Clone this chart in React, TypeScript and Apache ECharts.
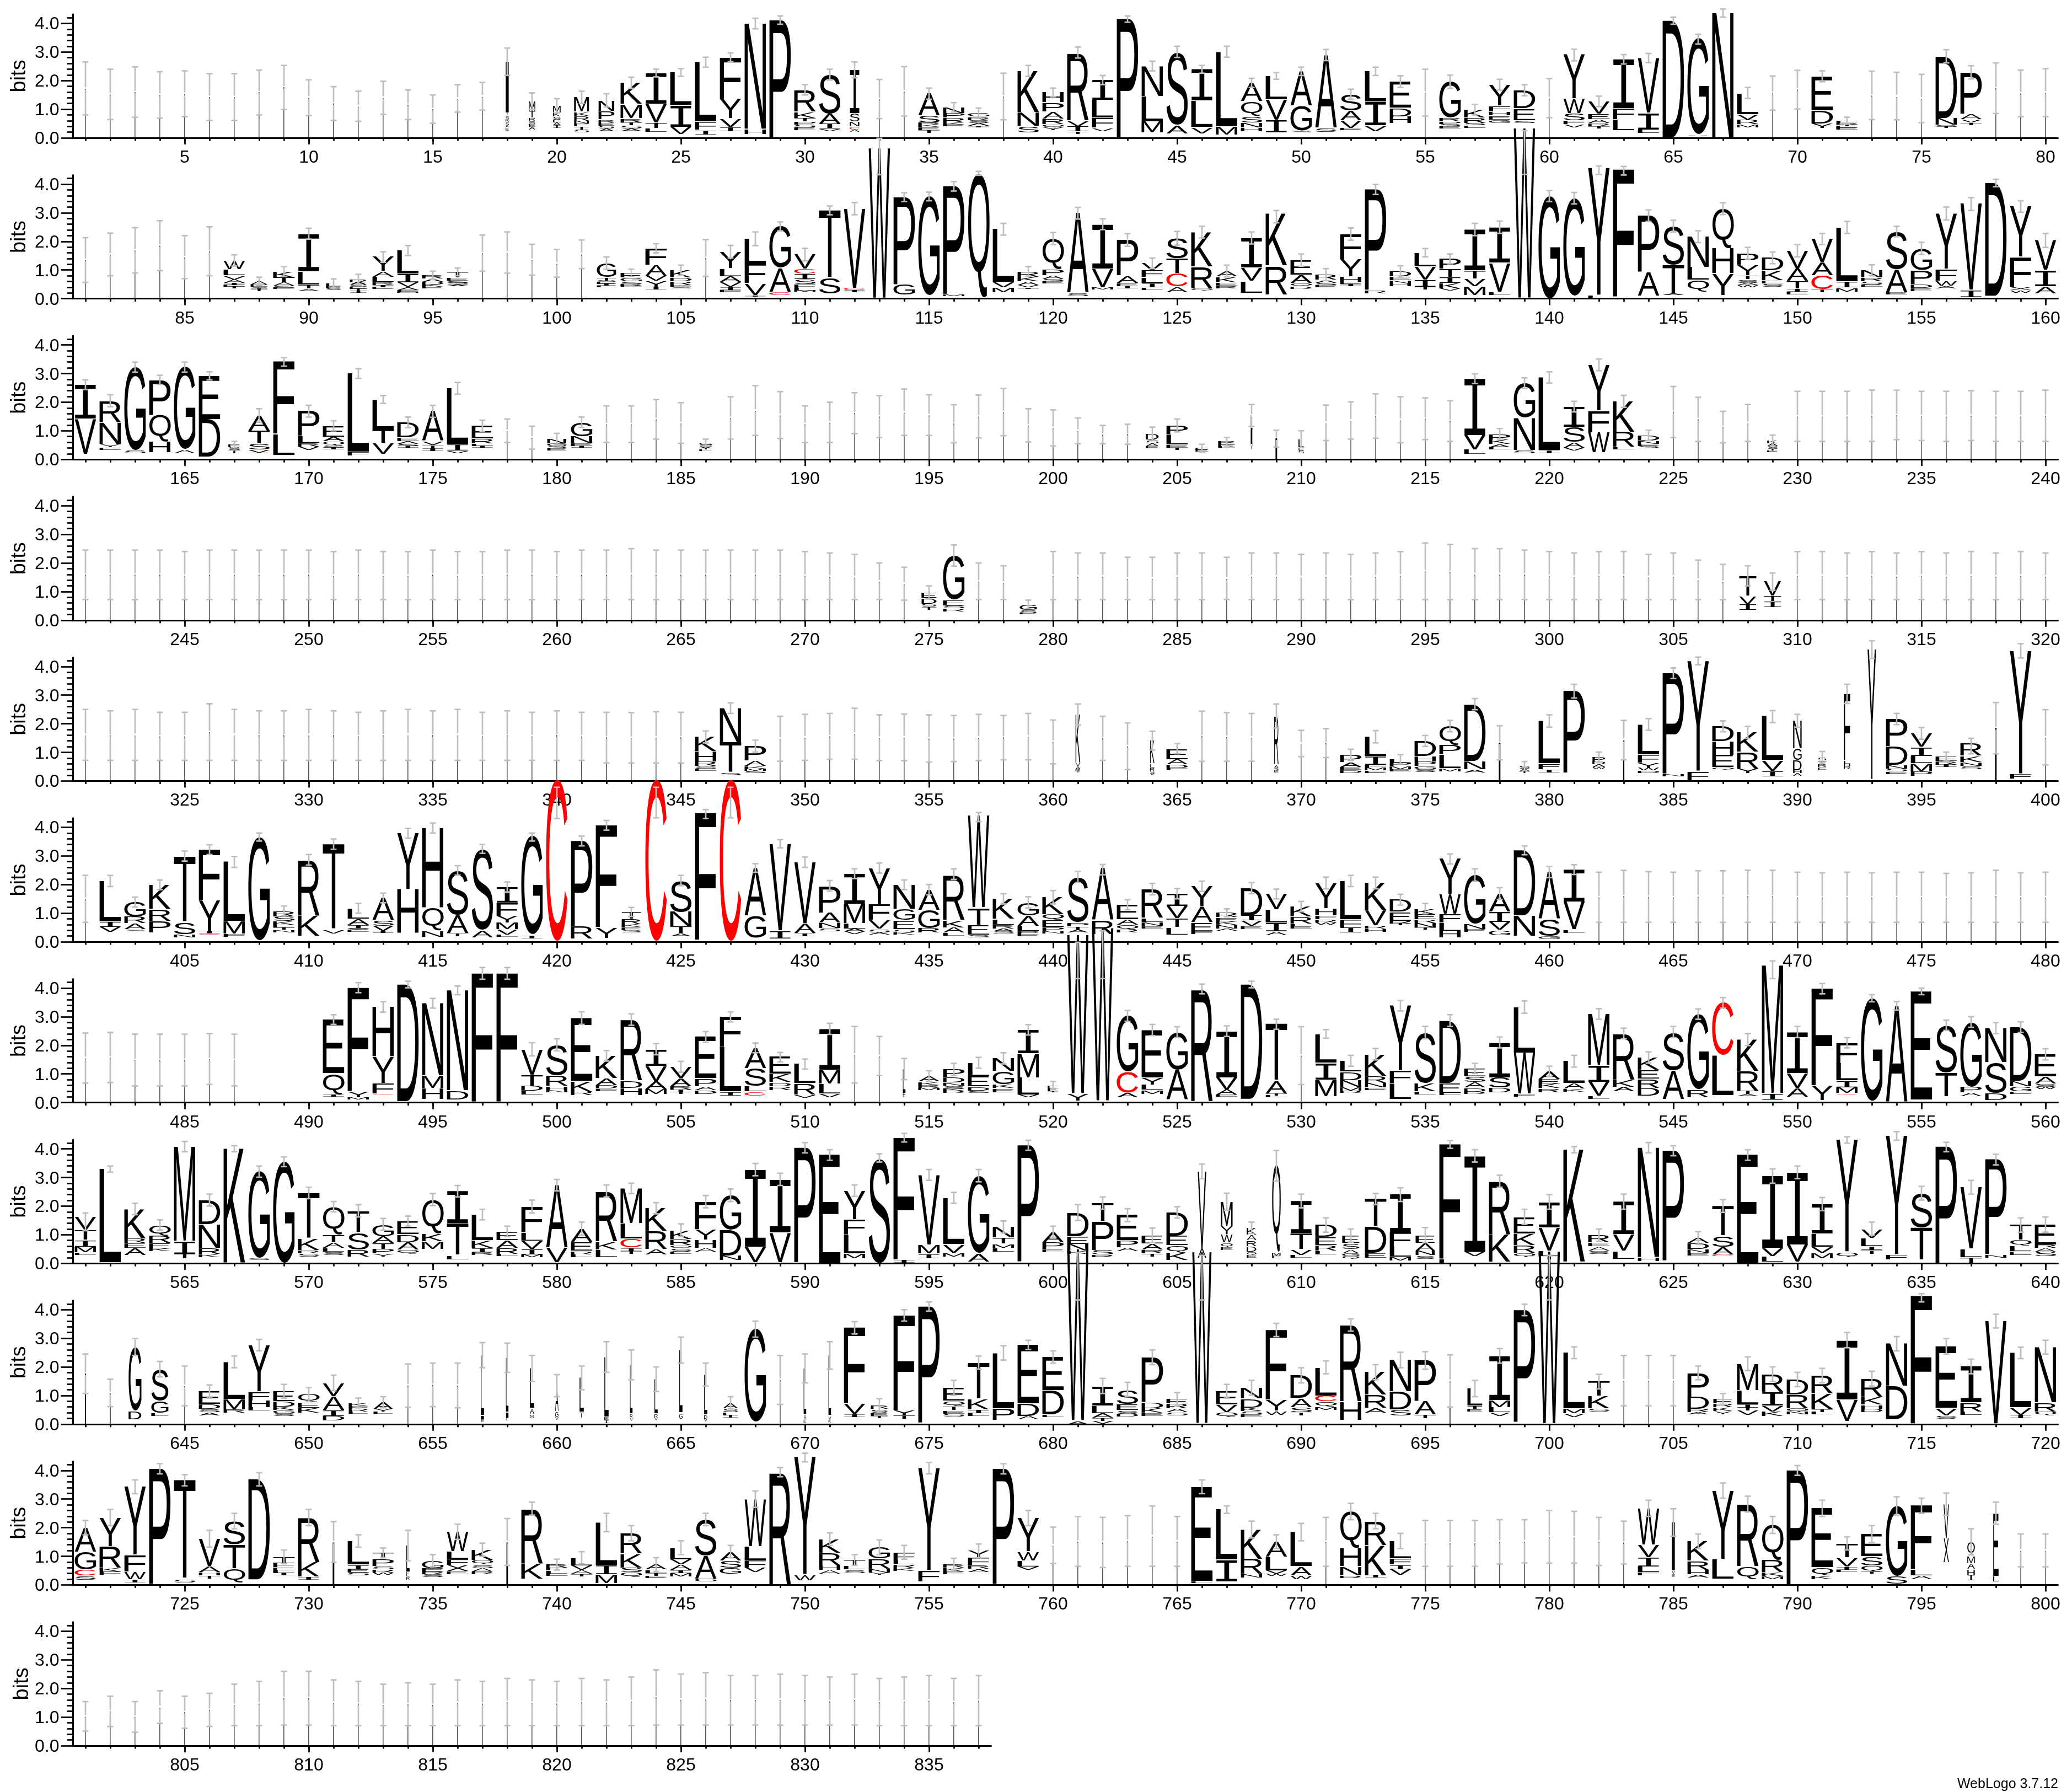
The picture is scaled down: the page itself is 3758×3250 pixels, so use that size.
import React, { useEffect, useRef } from "react";
import * as echarts from "echarts";

// Each position: "errTop/errLow[/widthPct[/stackTop]] letters" — letters run from the stack top downwards,
// a letter without a height runs down to the baseline.
const row01 = [
"2.65/.8/3 I","2.4/.64/3 I","2.48/.72/3 I","2.31/.69/3 I","2.34/.74/3 I","2.24/.61/3 I","2.24/.61/3 I","2.37/.8/3 I","2.53/.99/3 I","2.03/.78/3 I",
"1.79/.61/3 I","1.63/.58/3 I","1.98/.82/3 I","1.67/.64/3 I","1.5/.51/3 I","1.86/.9/3 I","1.94/.97/3 I","3.14/2.18/15 I1.76T.13S.12R.1S.1A.1E.1","1.57/.99/30 M.34T.25R.1S.1E.1A.1","1.37/.87/36 M.25K.13S.1E.1A.1I.1",
"1.63/1.2/70 M.5K.15R.17N.1E.1T.1S.1","1.54/1.08/74 N.37P.3R.12E.1S.1A.1","2.12/1.73 K.75M.49R.15T.1S.1A.1","2.4/2.13 I1.08V.65T.2L.14","2.42/2.15 L1.15I.75V.27","2.82/2.47 L2.08F.29I.16","2.97/2.66 F1.46Y.68V.29I.16","4.18/3.81 N3.7H.17","4.26/3.97 P","1.86/1.5 R.78K.21T.13P.1S.1E.1",
"2.4/2.02 S1.38A.35I.17V.08","2.65/2.1/45 I1.52S.29N.17C.1A.08","2.04/.67/2 I","2.49/.76/2 I","1.74/1.35 A.77S.24R.08K.08E.1T.1","1.23/.9 N.21P.16R.16K.07E.07","1.04/.71 G.14R.12S.1A.1I.05","2.26/.63/2 I","2.53/2.15 K1.45N.49S.22","1.74/1.44 H.35P.32A.25R.2Q.1Y.1",
"3.17/2.79 R2.38V.2I.18T.08","2.18/1.86 I.7L.63F.34V.12","4.26/4.04 P","2.68/2.34 N1.06L.88M.4","3.2/2.81 S2.56A.29","2.53/2.26 I1.1L.93V.22","3.2/2.82 L2.62M.29","2.08/1.76 A.65Q.53S.22N.16H.14","2.28/2.05 L.82V.72I.45","2.47/2.18 A1.2G.88S.06",
"3.09/2.7 A2.55S.15","1.7/1.35 S.58A.34V.26E.08","2.47/2.18 L1.07I.83V.2","2.17/1.76 E.92D.3H.24","2.4/.76/3 I","2.19/1.73 G1.25R.15P.08S.08E.08","1.17/.8 K.29R.18S.08E.08","2.05/1.67 Y.74F.2H.15E.14G.13","1.86/1.47 D.64E.42S.08","2.07/.7/3 I",
"3.1/2.69 Y1.54W.5S.26F.13V.1","1.46/1.09 V.44E.2A.13R.1T.08","2.91/2.58 I1.72F.38L.38","2.95/2.63 V1.92I.58L.13","4.22/3.97 D","3.62/3.28 G3.36A.02","4.5/4.22//4.36 N","1.76/1.38 L.74V.2R.16M.1","2.16/.97/1.5 I","2.36/1.01/2 I",
"2.34/1.96 E1.2D.45V.1T.06","0.72/.48 F.08R.06T.06E.06E.06","2.33/.64/3 I","2.29/.63/3 I","2.22/.53/3 I","3.08/2.62 D2.17N.23S.06T.05","2.52/2.06 P1.46A.18V.12T.08","2.62/.85/3 I","2.37/.74/3 I","2.42/.74/3 I"];

const row02 = [
"2.13/.57/3 I","2.29/.8/3 I","2.48/.9/3 I","2.72/.98/3 I","2.2/.7/3 I","2.51/.8/3 I","1.53/1.14 W.32L.21V.14A.13I.06E.06T.06","0.75/.48/80 A.13E.06S.06I.05T.05","1.12/.78 K.21T.18A.11S.07E.05","2.46/2.08 I1.32L.47T.14A.07",
"0.69/.39/70 L.1E.08S.06","0.85/.5/80 R.1A.09S.07E.07T.07I.07","1.64/1.27 Y.5A.2L.18R.12I.06E.06","1.85/1.51 L.82I.3V.16A.1F.07M.03","0.96/.68 R.13A.1D.09K.09E.05","1.07/.8 T.21E.1S.07S.07A.05","2.22/.96/3 I","2.33/.89/3 I","1.9/.82/3 I","1.72/.75/3 I",
"2.05/1.05/3 I","1.46/1.03/90 G.51T.1S.05E.08I.06L.05","1.03/.77 E.17G.14S.08R.05E.05","1.92/1.6 F.58A.39V.18Y.21I.08","1.17/.82 K.27D.13R.13E.05S.05","2.06/.78/3 I","1.86/1.42 Y.59L.27A.21V.16I.1F.08","2.33/1.85 L.88F.68V.41I.05","2.68/2.37 G1.46A.84C.1","1.76/1.32 V.5C.18I.18S.18F.13L.09M.04",
"3.24/2.93 T2.37S.55","3.36/2.93 V2.78C.07I.07","5.6/4.33//5.25 W","3.7/3.39 P3.06G.36","3.72/3.42 G3.47","4.09/3.76 P3.79M.05","4.45/4.31//4.33 Q","2.63/2.22 L1.86V.18M.17","1.12/.78 R.19K.16A.13V.08I.05","2.31/1.89 Q1.08P.21A.14S.07E.07",
"3.19/2.78 A2.8S.1","2.79/2.41 I1.55V.66M.08","2.27/1.83 P1.25A.25E.12I.08","1.42/1.05 V.26F.23L.2I.16L.08","2.35/1.87 S.72T.51C.47A.2","2.53/2.12 K1.21R.76Q.06","1.17/.76 A.2K.2E.12R.08","2.33/1.91 I1.04V.47L.41","3.08/2.65//2.96 K1.82R1","1.56/1.13 E.52A.29Q.12R.08",
"1.05/.63 R.18A.1S.08E.08","2.47/2.04 F.88Y.6H.19E.08I.06","3.99/3.64 P3.53R.1","1.15/.75 D.18E.14N.1H.1","1.75/1.46 L.49V.45I.25T.1","1.56/1.22 P.36T.29I.2K.2V.06","2.63/2.2 I1.43T.3V.26M.31","2.71/2.28 I1.25V1.01L.1","5.87/4.34//5.94 W","3.78/3.39 G3.6",
"3.71/3.31 G3.43","4.63/4.34//4.56 Y4.45L.1","4.62/4.32//4.52 F4.46","3.1/2.7 P1.97A.84","2.74/2.33 S1.36T.99A.05","2.37/1.96 N1.07L.45Q.4","3.35/2.94 Q1.4H.87Y.75","1.79/1.38 P.41Y.37T.14S.11A.08W.08","1.63/1.22 D.45K.33E.12S.12","1.89/1.46 V.63A.43T.27I.1E.1",
"2.28/1.89 V.82A.45C.49T.1","2.7/2.28 L1.9I.2M.15","1.18/.8 N.26R.14S.1E.08","2.53/2.16 S1.33A.8E.07","1.97/1.54 G.76P.49D.14E.1","3.2/2.75 Y1.95F.41W.17A.08","3.53/3.08 V3.02I.25","4.17/3.91 D3.97","3.42/3.02 Y1.77F1.04X.12W.08","2.28/1.79 V1.05I.56A.25"];

const row03 = [
"2.78/2.44 I1.2V1.23","2.26/1.84 R.78N.75Y.1E.08","3.4/3.05 G2.92S.1","2.94/2.62 P1.22Q.93H.39","3.4/3.05 G2.88A.14","3.06/2.78 E1.53D1.32","0.63/.41/55 E.1S.1T.1","1.77/1.3 A.53T.46S.21V.1C.02","3.56/3.26 F2.53L.73","1.89/1.48 P.87L.24R.14V.11",
"1.35/1 E.39A.16Q.14S.07I.07","3.17/2.83 L2.75F.11","2.23/1.96 L1.05T.48V.39","1.48/1.11 D.53E.14A.09S.07I.06","1.89/1.47 A1.05V.14T.12I.08","2.69/2.28 L1.96I.23V.07","1.37/.98 E.46R.16L.08I.06","1.41/.59/3 I","1.16/.36/3 I","0.91/.52/90 N.16G.09S.08E.08",
"1.48/1.12 G.5N.23E.1I.06","1.87/.59/2 I","1.87/.59/2 I","2.09/.71/2 I","1.98/.56/2 I","0.71/.45/60 G.07S.07A.05T.05L.05","2.19/.71/2 I","2.58/.84/2 I","2.37/.73/2 I","1.87/.59/2 I",
"2/.59/2 I","2.33/.9/2 I","2.23/.77/2 I","2.46/.84/2 I","2.26/.84/2 I","1.91/.58/2 I","2.25/.75/2 I","2.48/.83/2 I","1.77/.61/2 I","1.73/.47/2 I",
"1.45/.55/3 I","1.19/.55/3 I","1.23/.53/3 I","1.13/.67/60 D.22S.12A.1E.07","1.41/.96 P.31L.37E.1T.08","0.53/.26/60 E.06E.06","0.77/.47/80 R.06E.06K.05L.05","1.92/1.15/8 L.5I.5V.2","1.02/.43/8 I","1/.41/25 L.3E.1S.1",
"1.9/.66/2 I","2.01/.71/2 I","2.29/.74/2 I","2.19/.58/2 I","2.15/.69/2 I","2.05/.63/2 I","2.99/2.65 I1.97V.5L.16","1.08/.71 P.2K.16A.1L.08","2.85/2.48 G1.21N1.13S.12","3.06/2.67 L2.55I.1",
"2.03/1.66 I.71S.53A.2V.1","3.51/3.1 Y1.6F.76W.71","2.24/1.82 K1.07R.53L.08","1.02/.66 D.2N.1E.08S.08","2.55/.77/2 I","2.17/.63/2 I","1.68/.58/2 I","1.92/.63/2 I","0.85/.47/50 K.1A.1S.1T.05E.05","2.38/.63/2 I",
"2.38/.63/2 I","2.38/.63/2 I","2.42/.63/2 I","2.42/.69/2 I","2.38/.66/2 I","2.38/.63/2 I","2.4/.66/2 I","2.38/.63/2 I","2.38/.63/2 I","2.42/.63/2 I"];

const row04 = [
"2.45/.72/3 I","2.45/.72/3 I","2.45/.72/3 I","2.45/.72/3 I","2.4/.72/3 I","2.45/.72/3 I","2.45/.72/3 I","2.45/.72/3 I","2.45/.72/3 I","2.45/.72/3 I",
"2.4/.72/3 I","2.45/.72/3 I","2.4/.72/3 I","2.4/.72/3 I","2.45/.72/3 I","2.4/.72/3 I","2.4/.72/3 I","2.45/.72/3 I","2.45/.72/3 I","2.4/.72/3 I",
"2.45/.72/3 I","2.45/.72/3 I","2.5/.72/3 I","2.45/.72/3 I","2.45/.72/3 I","2.45/.72/3 I","2.45/.72/3 I","2.45/.72/3 I","2.45/.72/3 I","2.4/.72/3 I",
"2.35/.72/3 I","2.3/.72/3 I","2/.72/3 I","1.85/.7/3 I","1.2/.74/70 E.2D.2S.1T.1","2.63/1.89 G1.55E.2S.1R.1","2/.72/3 I","1.9/.72/3 I","0.7/.4/80 G.2S.1E.05","2.4/.72/3 I",
"2.35/.72/3 I","2.35/.72/3 I","2.2/.72/3 I","2.2/.72/3 I","2.35/.72/3 I","2.35/.72/3 I","2.2/.72/3 I","2.35/.72/3 I","2.35/.72/3 I","2.3/.72/3 I",
"2.35/.72/3 I","2.3/.72/3 I","2.35/.72/3 I","2.4/.72/3 I","2.7/.72/3 I","2.65/.72/3 I","2.5/.72/3 I","2.5/.72/3 I","2.45/.72/3 I","2.4/.72/3 I",
"2.35/.72/3 I","2.4/.72/3 I","2.4/.72/3 I","2.3/.72/3 I","2.35/.72/3 I","2.1/.72/3 I","1.95/.72/3 I","1.9/1.2/80 T.7V.3I.2","1.65/1.05/80 V.5T.2I.2","2.4/.72/3 I",
"2.4/.72/3 I","2.35/.72/3 I","2.4/.72/3 I","2.35/.72/3 I","2.4/.72/3 I","2.35/.72/3 I","2.4/.72/3 I","2.35/.72/3 I","2.4/.72/3 I","2.35/.72/3 I"];

const row05 = [
"2.5/.72/3 I","2.45/.72/3 I","2.5/.72/3 I","2.4/.72/3 I","2.4/.72/3 I","2.7/.72/3 I","2.5/.72/3 I","2.45/.72/3 I","2.45/.72/3 I","2.5/.72/3 I",
"2.45/.72/3 I","2.4/.72/3 I","2.45/.72/3 I","2.5/.72/3 I","2.45/.72/3 I","2.5/.72/3 I","2.4/.72/3 I","2.45/.72/3 I","2.4/.72/3 I","2.45/.72/3 I",
"2.4/.72/3 I","2.4/.63/3 I","2.39/.63/3 I","2.42/.63/3 I","2.4/.63/3 I","1.75/1.33 K.51H.35R.16S.08E.08","2.73/2.36 N1.2T1.06S.08","1.43/1.01 P.51A.19K.08M.08S.08","2.26/.69/3 I","2.33/.72/3 I",
"2.36/.76/3 I","2.54/.76/3 I","2.31/.71/3 I","2.34/.71/3 I","2.31/.66/3 I","2.29/.68/3 I","2.33/.71/3 I","2.29/.74/3 I","2.36/.74/3 I","2.13/.6/3 I",
"2.69/1.96/22 K1.7V.1A.1R.08T.05","2.26/.72/3 I","2.03/.4/3 I","1.74/1.08/20 K.8L.15R.1S.1V.07","1.31/.95 E.37A.18D.14F.05","2.44/.69/3 I","2.39/.69/3 I","2.36/.69/3 I","2.69/1.85/20 R1.7A.12S.08E.08","1.77/.85/3 I",
"1.83/.82/3 I","1.11/.72 P.27A.16E.1D.1","1.76/1.33 L.69I.29F.1M.1E.08","0.92/.6 L.13P.11M.1E.08","1.59/1.21 D.54H.19P.16G.1S.1","2.12/1.72 Q.67P.33L.48M.1","2.88/2.49 D1.99N.3A.1","1.93/.74/8 I","0.68/.37/50 S.1A.1T.05","2.31/1.88 L1.5F.2I.1",
"3.38/2.9 P2.88","1.01/.66/60 P.16D.1A.09W.07","2.12/.74/6 I","2.18/1.77 L1.06F.29Y.16W.1D.08","3.95/3.58 P3.53N.08","4.33/4.06 Y3.85F.32","2.1/1.72 D.53H.48E.43Q.07","1.91/1.49 K.69R.59Y.16","2.46/2.04 L1.54V.37I.19","2.33/1.88/40 N.97G.41D.35H.1A.1",
"1.03/.63/40 S.12T.13R.1E.08","3.38/2.71/30 F2.34L.1H.1R.1","4.9/4.28/40/4.6 Y4.55","2.36/1.97 P.96D.65N.13S.1E.08","1.87/1.46 V.48I.31L.26M.29P.16","1.01/.69 E.16R.13I.08","1.49/.95/100/1.32 R.44K.22N.14S.1","2.74/.95/8 I","4.8/4.3//4.54 Y4.3F.16","2.49/.56/3 I"];

const row06 = [
"2.32/.68/3 I","2.32/1.93 L1.42I.19V.18","1.56/1.22 G.52R.23A.21S.06","2.16/1.82 K.85R.41P.41","3.17/2.82 T2.31S.44N.09","3.39/3.05 F1.78Y1.07I.09C.03","2.98/2.6 L2.09M.43F.09","3.8/3.52//3.66 G3.62","1.25/.9 R.19S.16K.13E.1T.08N.08","3.05/2.68 R1.96K.71",
"3.59/3.23 T3V.14","1.34/1 L.37A.21I.13S.06E.06","1.7/1.36 A.78S.2V.18I.06","3.96/3.62 Y1.97H1.54","4.15/3.8 H2.79Q.81N.21","2.66/2.33 S1.57A.63T.12","3.4/3.09 S2.85A.25","2.09/1.74 I.56F.46Y.23M.23V.19L.07","3.8/3.52 G3.44I.1","5.4/4.31//5.65 C",
"3.69/3.35 P2.98R.43","4.24/3.9 F3.58Y.36","1.2/.88/90 T.25R.18K.1E.1S.08","5.4/4.33//5.65 C","2.32/1.96 S1.1N.5T.24A.1","4.62/4.31//4.5 F4.45","5.4/4.33//5.65 C","2.73/2.43 A1.67G.78","3.57/3.28 V3.04I.27","2.96/2.6 V2.14A.34I.12",
"2.14/1.77 P.94A.36N.19S.11","2.55/2.21 I1.05M.68L.19A.1V.1","2.75/2.4 Y1.26F.55V.32S.11A.08","2.16/1.82 N.85G.39E.32S.1K.08","2/1.64 A.71G.64R.16","2.55/2.18/100/2.32 R1.57K.25A.18L.1","4.52/4.2//4.4 W3.22T.6E.34S.08","1.68/1.32 K.71L.2R.13A.1S.08","1.57/1.18 G.46A.36L.18P.1E.08","1.79/1.32 K.6Q.19E.25P.14N.08",
"2.46/2.07 S1.6P.14T.1A.1","2.7/2.34/100/2.58 A1.82R.5","1.47/1.12 E.51A.2Q.16R.1","2.04/1.64 R1.02L.14N.14E.08","1.86/1.5 I.43V.43T.32L.25","2.12/1.76 Y.73A.53E.32F.1","1.15/.87 R.16E.14K.13N.11A.08","2.07/1.68 D.96I.18V.19E.1","1.84/1.5 V.55L.46I.3A.13","1.41/1.05 K.36R.25L.08E.08",
"2.26/1.85 Y.89H.25F.14R.1W.07","2.32/1.93 L1.35F.28I.18","2.26/1.85 K.96V.53R.12H.09","1.66/1.28 D.43E.32R.09T.06","1.34/.98 K.2E.18R.13N.16T.07","3.07/2.72 Y1.25W.68F.31L.28H.23","2.55/2.11 G1.71N.18P.09","1.89/1.48 A.64I.36V.28G.18","3.35/3.04 D2.28N.71","2.63/2.24 A1.64S.6G.11",
"2.69/2.35 I1.12V.98L.12","2.43/.68/2 I","2.5/.68/2 I","2.45/.68/2 I","2.43/.68/2 I","2.48/.68/2 I","2.48/.68/2 I","2.5/.68/2 I","2.5/.68/2 I","2.43/.68/2 I",
"2.41/.68/2 I","2.43/.68/2 I","2.41/.68/2 I","2.43/.68/2 I","2.43/.68/2 I","2.39/.68/2 I","2.41/.68/2 I","2.5/.68/2 I","2.41/.68/2 I","2.43/.68/2 I"];

const row07 = [
"2.43/.68/3 I","2.45/.7/3 I","2.39/.58/3 I","2.39/.58/3 I","2.39/.58/3 I","2.41/.63/3 I","2.39/.58/3 I","","","",
"3.07/2.73 E1.9Q.73I.07","4.19/3.84 F3.63Y.21M.07","3.53/3.16 H1.74Y.93F.37C.02","4.24/4.01 D4.1","3.64/3.3 N2.53M.43H.39","4.07/3.77 N3.51D.32","4.72/4.31//4.5 F","4.72/4.31//4.5 F","2.09/1.63 V.89T.39D.18L.11","2.23/1.81 S1.08R.37H.14N.07",
"3.17/2.73 E2.22K.36R.11","1.82/1.45 K.78A.25D.13F.07","3.1/2.7 R2.15D.25H.25","2.06/1.67 I.59V.53A.28M.18","1.44/1.06 V.41A.28R.11I.09T.07","2.48/2.11 E1.47P.26A.14D.13","3.17/2.82 F1.05L1.57I.14","2.08/1.74 A.71S.63L.19C.14","1.75/1.42 E.6K.28D.14R.14","1.52/1.17/100/1.35 L.68R.4V.12",
"2.77/2.38 I1.44M.48L.34V.14","2.66/.68/2 I","2.31/.94/2 I","1.54/.8/12 L.8E.2","1.11/.74 A.2K.12R.09M.08","1.37/.95 P.28D.18N.12S.1K.07R.07","1.58/1.2 L.48E.36D.14S.07","1.74/1.35 N.45G.46K.14E.14","2.72/2.36 I.83M.84L.6V.09","0.74/.46/50 E.1L.1I.05",
"5.6/4.33//5.85 W5.55Y.25","6/4.33//6.1 W6.05","3.22/2.84 G1.97C.73A.16","2.73/2.34 E1.67Y.24L.19M.14","2.65/2.27 G1.32A1.05","4.14/3.8 R3.95","2.68/2.31 I1.62V.43A.18E.07","4.24/4.01 D4.02","2.91/2.56 T1.99A.43T.07L.06","2.65/.63/2 I",
"2.55/2.25 L1.01I.59M.59","1.65/1.27 L.39D.3N.23M.13R.07","1.89/1.49 K.76R.25N.16E.08","3.57/3.2 Y2.28F.46L.53","2.66/2.23 S1.78K.28L.1","3.07/2.66 D2.19E.34L.08","1.37/1.02 E.28S.2A.2D.14R.07","2.29/1.91 I1.22S.37D.16","3.55/3.12 L1.6W1.44F.09","1.27/.92 A.28E.16K.16R.14",
"1.65/1.24 L.78A.18K.1","3.28/2.91 M1.79I.58V.5L.1","2.6/2.23 R1.62K.25A.16","1.77/1.38 K.43E.32R.32D.28","2.66/2.27 S1.34A1.01","3.27/2.91 G2.63R.28","3.67/3.3 C1.85L1.39","2.41/1.99 K1.1R.7T.11A.07","4.95/4.33//4.79 M4.48I.21C.02","2.66/2.27 I1.44V.52A.32",
"4.16/3.8 F3.4Y.5","2.27/1.91 F.73L.6I.23M.21C.03","3.77/3.52 G3.6","3.53/3.23 A3.35","4/3.77 E3.8","2.88/2.52 S1.67T.84","3/2.63 G2.26P.21A.13","2.79/2.41 N1.2S1.07D.25","2.82/2.45 D1.89N.18G.18E.08","1.88/1.49 E.78A.25S.1W.08"];

const row08 = [
"1.76/1.14/100/1.62 V.46T.35I.23M.21L.08","3.4/3.19 L3.28","2.1/1.7 K1.04R.16E.16A.25","1.52/1.16 Q.37R.27E.18K.1","4.26/3.9 M3.31I.45T.16","2.42/2 D.85N.83R.21K.1","4.11/3.9/100/4 K4","3.4/3.01 G3.04S.05","3.72/3.38 G3.55","2.66/2.26 T1.6K.4R.12S.1",
"2.16/1.8 Q.98T.27A.19L.14S.1","2.05/1.62 T.75S.62R.25","1.57/1.16 G.43A.23T.21P.16Y.09","1.65/1.3 E.47D.27A.27Q.14","2.44/2.02 Q1.19K.27M.27","2.72/2.32 I1.12T1.12L.15","1.89/1.52 L.9K.27I.15R.1","1.3/.93 E.32A.27R.21L.07","2.21/1.76 F.91L.29V.29I.19M.1","2.93/2.53 A2.19V.5",
"1.44/.98 A.46E.32R.12L.1","2.74/2.32 R1.78K.27L.27","2.8/2.44 M1.23L.53C.32I.12T.09","2.12/1.73 K.8R.64A.18","1.38/.93 K.32R.21Q.12S.1E.07","2.37/1.94 F.96Y.37H.3A.13","2.6/2.16 G1.22D.9N.16","3.49/3.06 I2.7V.53","3.15/2.72 I1.85V1.04","4.22/3.86 P4.02",
"3.97/3.6 E3.86","2.74/2.34 Y1.01F.54L.66M.16","3.83/3.54 S3.7","4.54/4.24 F4.27I.1","3.28/2.9 V2.45M.31I.16","2.48/2.1 L1.63V.3M.13","3.28/2.85 G2.72A.29","1.48/1.06 N.38T.21M.14L.15","4.3/3.95 P4.08","1.3/.88 A.37P.23E.12",
"2.05/1.5 D.83E.27N.25K.1","2.32/1.89 T.64P1.01S.16R.08","1.91/1.46 E.9P.23A.14","1.23/.72 E.29A.21R.14T.1","1.98/1.58 D.82E.34Q.25K.27","3.47/2.96/40 V2.69A.34","2.45/1.85/55 M.85Y.29W.29Q.15E.1","1.44/1.04/45 K.24A.2R.2D.2Q.1E.1","3.94/2.87/40 Q3.03M.1E.1","2.42/1.94 I1.12T.57V.2L.1",
"1.59/1.09 D.43E.29R.18L.13","1.2/.74/80 E.27S.2A.15G.1Q.1","2.44/2.05 T.96D.93E.16","2.64/2.16 I1.33F.5L.35M.14","1.25/.72/90 E.27A.27N.17S.12","4.29/4.02 F4.02L.16","3.97/3.54 I3.36V.16","3.08/2.66 R1.87K.96","1.89/1.36 E.59K.41R.27Q.13","2.4/1.89 I.9V.8L.2T.1",
"4.08/3.86 K3.93","1.2/.77 R.27E.13A.14S.13","2.42/1.89 I1.14V.59L.27","4.22/3.86 N3.84H.13","4.11/3.76 P3.86","1.11/.66 A.18D.21N.14E.08","2.23/1.78 T1.05S.39A.27C.05","3.97/3.6 E3.86","3.3/2.8 I2.52V.29L.19","3.4/2.96 I2.52V.61",
"2.3/1.84 I1.04L.46V.21M.19","4.42/4.2//4.32 Y3.93Q.18","1.44/.98 V.32L.3I.14T.13","4.6/4.3//4.45 Y4.16F.16","2.69/2.21 S1.2T1.14","4.23/3.9 P4.13","2.9/2.42 V2.16L.3T.21","3.81/3.44 P3.33N.1","1.59/1.09 T.53Q.21L.18E.14","1.62/1.09 E.7R.13A.11S.18"];

const row09 = [
"2.45/1.07/5 I","1.57/.61/4 I","2.99/2.4/60 G2.24D.3","2.19/1.65/80 S1.11G.43L.1","2.03/.64/3 I","1.37/.91 E.45D.16S.12A.1","2.38/1.97 L1.31M.35R.11","2.96/2.56 Y1.62F.32H.23L.11","1.39/.91 E.36D.18K.13G.1S.1","1.28/.8 Q.29E.19K.16",
"1.71/1.17 V.47A.48I.21D.16","0.91/.57/90 K.1F.1R.1L.08","0.96/.57/90 A.23Y.1L.08","2.1/.59/3 I","2.13/.61/3 I","2.13/.57/3 I","2.85/1.97/15 L2.1I.15E.1","2.83/1.81/12 L1.9I.2E.1","2.4/1.49/20 L1.4A.2S.15","1.73/.96/15 A.9G.2V.1",
"2.03/1.2/20 L1.2T.2","2.88/1.81/20 L2.1E.1I.1","2.59/1.55/12 L1.7R.15V.1","2/1.14/15 L1.2R.15V.1","3.04/2.13/15 L2.2G.2","2.13/1.33/15 L1.4D.15V.1","0.96/.53/70 A.2S.14L.1I.08","3.6/3.04 G3.27","2.4/.69/2 I","2.45/1.44/12 L1.6A.2E.1",
"2.88/1.92/12 L2.1V.15K.1","3.58/3.15 F2.65V.37I.1","0.89/.43/80 R.14S.13E.1T.08","4/3.6 F3.32Y.17T.13","4.27/3.95 P4.08","1.53/1.01 E.47Q.18T.14E.12S.1","2.38/1.92 T1.28K.37I.11L.1","2.74/2.24 L1.95P.41","2.93/2.61 E2.06D.43A.11","2.56/2.13 E1.17D.85L.08",
"6/4.34//6.1 W6A.1","1.6/1.07 I.69L.27A.16T.1V.1","1.46/.96 S.51E.21S.13D.1","2.59/2.08 P1.58D.21K.16E.1","1.1/.64 E.16R.17A.13S.1","5.9/4.34/90/6 W","1.39/.91 E.48V.27Q.16","1.53/1.01 N.39D.32K.11S.1E.1","3.52/3.06 F2.45Y.38W.14","1.97/1.44 D.8A.32S.18T.1",
"2.21/1.76 L.99C.21Q.18M.1","3.68/3.25 R2.69H.64","2.08/1.55 K.8R.46A.16","2.51/1.97 N1.1D.64S.21","2.53/1.92 P1.42A.48T.11","2.42/.6/4 I","1.53/.96/70 L.61I.11E.08","2.64/2.13 I1.55M.25L.18V.13","4.19/3.79 P3.93","5.9/4.34//6.03 W",
"2.7/2.29 L1.97M.16V.11","1.74/1.23 T.51K.43S.1","2.4/.64/2 I","2.4/.64/2 I","2.4/.64/2 I","2.03/1.55 P.83D.43R.11A.08","1.07/.69/90 E.16R.14K.13Y.12","2.35/1.87 M.94L.48I.11T.1V.16","2/1.49 R.62I.48V.21K.16","1.81/1.31 D.53R.48Q.11N.1",
"1.95/1.44 R.64K.53T.1L.09","3.2/2.67 I2.08V.75","1.85/1.33 R.64K.27H.15D.13","3.06/2.56 N1.49D1.17","4.56/4.27//4.48 F","2.99/2.45 E2.17V.25S.13","2.27/1.76 I1.26R.32L.11","3.84/3.36 V3.6","2.69/2.29 L1.92V.25I.11","2.93/2.45 N1.94R.32Q.13"];

const row10 = [
"2.25/1.75 A.85G.62C.21S.15","2.64/2.07 Y1R.77K.11F.13","3.67/3.19 Y2.38F.59W.27I.1","4.24/3.88 P4.05","3.85/3.46 T3.47S.11","1.91/1.32 V.96A.21H.12T.12","2.5/1.96 S.82T.85Q.48","3.92/3.46 D3.52","1.22/.74 T.21F.16E.1L.1I.08","2.64/2.07 R1.57K.51I.1",
"2.21/.79/8 I","1.75/1.32 L.83I.16E.11S.1","1.29/.95 T.21P.25S.13R.1W.08","1.91/.84/15 L.9E.2R.1","1.06/.63 G.27E.11R.1S.09","2.12/1.59 W.69L.27F.21X.21E.1","1.46/1 K.36Q.16S.13A.11R.1","2.32/.68/8 I","2.89/2.44 R1.92K.53","0.9/.52 R.11F.1L.1E.08",
"1.16/.74 L.27V.16A.14T.08","2.5/1.86 L1.49I.32M.32","2.07/1.54 R.72K.48S.16Q.16","0.95/.47 A.18L.12T.1E.08","1.54/1.06 L.41V.18A.19I.12M.11","2.5/2.07 S1.28A.8G.09","1.38/.95 A.32S.25G.21","3.28/2.71 W1.65L.48F.27V.16","4.1/3.78 R3.95","4.6/4.3//4.47 Y4.11W.2",
"1.82/1.38 K.48R.45H.16A.13","1.06/.68 T.21L.13S.11","1.57/1.06 G.41R.35N.13Y.08","1.38/.9 F.27L.16R.13K.1","4.28/3.88 Y3.58F.38","0.93/.52 R.14K.11E.1","1.43/.95 Y.23F.27R.14A.1","4.24/3.88 P4.05","2.6/2.07 Y1.17W.32L.21V.11","2.02/.75/3 I",
"2.39/.65/3 I","2.36/.61/3 I","2.42/.65/3 I","2.76/.65/3 I","2.39/.65/3 I","3.67/3.19 E3.31L.05","2.76/2.5 L1.76I.75","2.23/1.64 K1.03R.53N.13","1.75/1.27 A.53L.48V.11W.08","2.15/1.54 L1.2A.32W.13",
"2.36/.65/3 I","2.85/2.28 Q1.28H.64N.32R.08","2.5/1.96 R.85K1.05I.08","1.8/1.27 L.62F.21I.16V.21","2.25/.65/3 I","2.25/.65/3 I","2.25/.65/3 I","2.28/.73/3 I","2.28/.77/3 I","2.6/.76/3 I",
"2.57/.76/3 I","2.36/.68/3 I","2.23/.73/3 I","2.96/2.39 W1.28V.43I.32L.21F.1","2.66/1.7/15 I1.7V.1E.1","1.78/1.27 K.69R.32H.16A.1","3.56/3.03 Y2.4L.69","3.1/2.55 R2.19Q.43","2.39/1.8 Q1.23R.43K.13M.1","4.17/3.83 P4.02",
"2.96/2.39 E2.08Q.27K.13","1.68/1.22 T.5V.32I.1L.08","2.07/1.48 E.78S.32Q.21T.08","3.08/2.44 G2.45S.27","3.03/2.5 F2.24L.21A.11","3.21/2.43/25/2.82 V1.2X.85","1.96/1.05/35 Q.5M.25A.2H.2I.2","2.89/2.12/25 E2.2L.2","1.78/.63/2 I","1.78/.63/2 I"];

const row11 = [
"1.54/.51/3 I","1.73/.67/3 I","1.54/.47/3 I","1.92/.78/3 I","1.73/.61/3 I","1.83/.67/3 I","2.15/.7/3 I","2.25/.7/3 I","2.6/.72/3 I","2.6/.72/3 I",
"2.3/.7/3 I","2.25/.7/3 I","2.15/.7/3 I","2.2/.7/3 I","2.15/.7/3 I","2.3/.7/3 I","2.25/.7/3 I","2.35/.7/3 I","2.3/.7/3 I","2.25/.7/3 I",
"2.35/.7/3 I","2.3/.7/3 I","2.4/.7/3 I","2.65/.72/3 I","2.5/.72/3 I","2.55/.72/3 I","2.45/.72/3 I","2.45/.72/3 I","2.5/.72/3 I","2.45/.72/3 I",
"2.4/.72/3 I","2.5/.72/3 I","2.35/.7/3 I","2.4/.7/3 I","2.45/.7/3 I","2.35/.7/3 I","2.45/.7/3 I"];

const rows = [row01,row02,row03,row04,row05,row06,row07,row08,row09,row10,row11];
const majorTicks = [0,1,2,3,4];
const minorTicks = [0.2,0.4,0.6,0.8,1.2,1.4,1.6,1.8,2.2,2.4,2.6,2.8,3.2,3.4,3.6,3.8,4.2];
const footer = "WebLogo 3.7.12";

const SANS = '"Liberation Sans"';
const MONO = '"Liberation Mono"';
const cv = document.createElement("canvas").getContext("2d")!;
const cache: Record<string, any> = {};
function glyph(ch: string, family: string) {
  const k = ch + family;
  if (cache[k]) return cache[k];
  const font = `100px ${family}`;
  cv.font = font;
  const m = cv.measureText(ch);
  const g = {
    font,
    l: m.actualBoundingBoxLeft, r: m.actualBoundingBoxRight,
    a: m.actualBoundingBoxAscent, d: m.actualBoundingBoxDescent,
    c: (m.fontBoundingBoxAscent - m.fontBoundingBoxDescent) / 2,
  };
  cache[k] = g;
  return g;
}
function parse(s: string) {
  if (!s) return null;
  const [head, body] = s.split(" ");
  const [t, l, w, st] = head.split("/");
  const top = parseFloat(t), low = parseFloat(l);
  const width = w ? parseFloat(w) : 100;
  const stack = st ? parseFloat(st) : (top + low) / 2;
  const letters: [string, number | null][] = [];
  const re = /([A-Z])([\d.]*)/g;
  let m: any;
  while ((m = re.exec(body || ""))) letters.push([m[1], m[2] ? parseFloat(m[2]) : null]);
  return { top, low, width, stack, letters };
}
const GREY = "#bebebe";
const renderItem = (row: string[]) => (params: any, api: any) => {
  const idx = api.value(0);
  const p = parse(row[idx]);
  if (!p) return { type: "group", children: [] };
  const cx = api.coord([idx, 0])[0];
  const Y = (v: number) => api.coord([idx, v])[1];
  const band = api.size([1, 0])[0];
  const W = Math.max(1.1, (band * 0.87 * p.width) / 100);
  const kids: any[] = [];
  let cur = p.stack;
  for (const [ch, h0] of p.letters) {
    const h = h0 == null ? cur : h0;
    const yT = Y(cur), yB = Y(cur - h);
    cur -= h;
    const H = yB - yT;
    if (H <= 0) continue;
    const fam = ch === "I" && W > 6 ? MONO : SANS;
    const g = glyph(ch, fam);
    const sx = W / (g.l + g.r);
    const pad = H > 6 ? 1 : 0;
    const sy = (H - pad) / (g.a + g.d);
    kids.push({
      type: "text", silent: true,
      x: cx - W / 2 + g.l * sx,
      y: yT + pad / 2 - (g.c - g.a) * sy,
      scaleX: sx, scaleY: sy,
      style: { text: ch, font: g.font, fill: ch === "C" ? "#ff0000" : "#000", align: "left", verticalAlign: "middle" },
    });
  }
  const yTop = Y(p.top), yLow = Y(p.low), yMid = Y(p.stack);
  const line = (x1: number, y1: number, x2: number, y2: number) => ({
    type: "line", silent: true, shape: { x1, y1, x2, y2 }, style: { stroke: GREY, lineWidth: 2.7 },
  });
  kids.push(line(cx - 5.5, yTop, cx + 5.5, yTop), line(cx - 5.5, yLow, cx + 5.5, yLow));
  if (p.width <= 8) {
    kids.push(line(cx, yTop, cx, yMid - 2.5), line(cx, yMid + 2.5, cx, yLow));
  } else {
    kids.push(line(cx, yTop, cx, yLow));
  }
  return { type: "group", children: kids };
};

function buildOption() {
  const grid: any[] = [], xAxis: any[] = [], yAxis: any[] = [], series: any[] = [];
  const textBase = { fontFamily: SANS, color: "#000" };
  let start = 1;
  rows.forEach((row, r) => {
    const base = 250 + 291.6 * r;
    const h = 224.2;
    grid.push({ left: 132.5, top: base - h, width: 45 * row.length, height: h, containLabel: false });
    const cats = row.map((_, i) => String(start + i));
    const isMajor = (_: number, v: string) => +v % 5 === 0;
    xAxis.push({
      type: "category", gridIndex: r, position: "bottom", data: cats, boundaryGap: true,
      axisLine: { show: true, onZero: false, lineStyle: { color: "#000", width: 3 } },
      axisTick: { show: true, alignWithLabel: true, length: 12, interval: isMajor, lineStyle: { color: "#000", width: 2.7 } },
      axisLabel: { show: true, interval: isMajor, margin: 18, fontSize: 32, ...textBase },
      splitLine: { show: false },
    });
    xAxis.push({
      type: "category", gridIndex: r, position: "bottom", data: cats, boundaryGap: true,
      axisLine: { show: false, onZero: false },
      axisTick: { show: true, alignWithLabel: true, length: 5.5, interval: 0, lineStyle: { color: "#000", width: 2.7 } },
      axisLabel: { show: false }, splitLine: { show: false },
    });
    yAxis.push({
      type: "value", gridIndex: r, position: "left", min: 0, max: 4.32,
      axisLine: { show: true, onZero: false, lineStyle: { color: "#000", width: 3 } },
      axisTick: { show: true, length: 22, customValues: majorTicks, lineStyle: { color: "#000", width: 2.7 } },
      axisLabel: { show: true, customValues: majorTicks, margin: 25, fontSize: 32, formatter: (v: number) => v.toFixed(1), ...textBase },
      splitLine: { show: false },
      name: "bits", nameLocation: "middle", nameRotate: 90, nameGap: 76,
      nameTextStyle: { fontSize: 38, ...textBase },
    });
    yAxis.push({
      type: "value", gridIndex: r, position: "left", min: 0, max: 4.32,
      axisLine: { show: false, onZero: false },
      axisTick: { show: true, length: 11, customValues: minorTicks, lineStyle: { color: "#000", width: 2.7 } },
      axisLabel: { show: false }, splitLine: { show: false },
    });
    const stackTops = row.map((s, i) => { const p = parse(s); return [i, p ? p.stack : 0]; });
    series.push({
      type: "custom", coordinateSystem: "cartesian2d", xAxisIndex: r * 2, yAxisIndex: r * 2, clip: false, silent: true,
      data: stackTops, encode: { x: 0, y: 1 }, renderItem: renderItem(row), z: 5 + r,
    });
    start += row.length;
  });
  return {
    animation: false, backgroundColor: "#fff", tooltip: { show: false },
    grid, xAxis, yAxis, series,
    graphic: [{ type: "text", right: 25, top: 3221, style: { text: footer, font: `25px ${SANS}`, fill: "#000" } }],
  };
}

export default function App() {
  const ref = useRef<HTMLDivElement>(null);
  useEffect(() => {
    const chart = echarts.init(ref.current!, undefined, { renderer: "svg" });
    chart.setOption(buildOption() as any);
    return () => chart.dispose();
  }, []);
  return <div ref={ref} style={{ position: "absolute", left: 0, top: 0, width: 3758, height: 3250, willChange: "transform" }} />;
}
